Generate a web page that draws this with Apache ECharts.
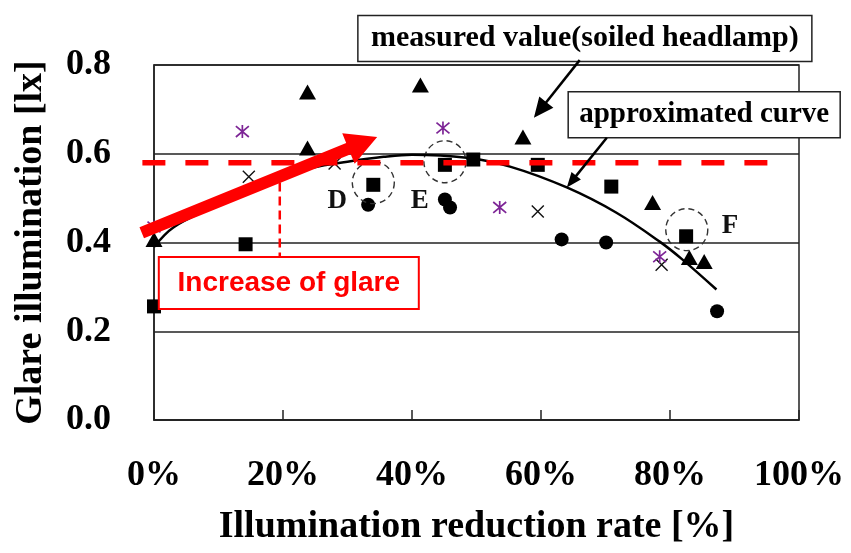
<!DOCTYPE html>
<html>
<head>
<meta charset="utf-8">
<script src="https://cdn.jsdelivr.net/npm/echarts@6/dist/echarts.min.js"></script>
<style>
  html, body { margin: 0; padding: 0; background: #fff; }
  #chart { width: 851px; height: 553px; }
</style>
</head>
<body>
<div id="chart"></div>
<script>
// Glare illumination [lx] against illumination reduction rate (fraction 0..1)
const xTickValues = [0, 0.2, 0.4, 0.6, 0.8, 1.0];
const yTickValues = [0, 0.2, 0.4, 0.6, 0.8];

// measured points, one array per marker type
const trianglePoints = [[0, 0.407], [0.238, 0.739], [0.238, 0.613], [0.413, 0.755], [0.572, 0.638], [0.773, 0.49], [0.83, 0.366], [0.853, 0.357]];
const squarePoints = [[0, 0.256], [0.142, 0.396], [0.34, 0.53], [0.451, 0.575], [0.495, 0.587], [0.595, 0.575], [0.709, 0.526], [0.825, 0.414]];
const circlePoints = [[0.332, 0.485], [0.451, 0.497], [0.459, 0.479], [0.632, 0.407], [0.701, 0.40], [0.873, 0.245]];
const crossPoints = [[0.147, 0.548], [0.28, 0.578], [0.595, 0.47], [0.787, 0.35]];
const asteriskPoints = [[0, 0.435], [0.137, 0.65], [0.448, 0.658], [0.536, 0.479], [0.784, 0.368]];

// approximated curve
const approxCurve = [[0, 0.39], [0.03, 0.434], [0.093, 0.481], [0.17, 0.535], [0.247, 0.569], [0.30, 0.582], [0.356, 0.593], [0.40, 0.598], [0.485, 0.591], [0.552, 0.571], [0.64, 0.524], [0.717, 0.467], [0.784, 0.402], [0.819, 0.362], [0.872, 0.294]];

// glare reference level and its extent
const glareLevel = 0.58;
const glareLevelSpan = [-0.018, 0.955];
const glareDrop = [[0.195, 0.535], [0.195, 0.366]];
const glareArrow = [[-0.019, 0.422], [0.346, 0.638]];

// highlighted points and their letters
const ringCenters = [[0.34, 0.535], [0.451, 0.582], [0.826, 0.429]];
const ringLetters = ['D', 'E', 'F'];
const letterAnchors = [[0.284, 0.494], [0.412, 0.494], [0.893, 0.436]];

// callout boxes: text, anchor (centre), and the arrow from the box to the chart
const measuredText = 'measured value(soiled headlamp)';
const measuredAnchor = [0.668, 0.86];
const measuredPointer = [[0.660, 0.811], [0.589, 0.681]];
const curveText = 'approximated curve';
const curveAnchor = [0.853, 0.688];
const curvePointer = [[0.702, 0.636], [0.640, 0.524]];
const glareText = 'Increase of glare';
const glareAnchor = [0.209, 0.309];

const SERIF = '"Liberation Serif", "Times New Roman", serif';
const SANS = '"Liberation Sans", Arial, sans-serif';

function arrowPolygon(p0, p1, shaftW, headL, headW) {
  const dx = p1[0] - p0[0], dy = p1[1] - p0[1];
  const len = Math.hypot(dx, dy);
  const ux = dx / len, uy = dy / len, nx = -uy, ny = ux;
  const bx = p1[0] - ux * headL, by = p1[1] - uy * headL;
  return [
    [p0[0] + nx * shaftW / 2, p0[1] + ny * shaftW / 2],
    [bx + nx * shaftW / 2, by + ny * shaftW / 2],
    [bx + nx * headW / 2, by + ny * headW / 2],
    [p1[0], p1[1]],
    [bx - nx * headW / 2, by - ny * headW / 2],
    [bx - nx * shaftW / 2, by - ny * shaftW / 2],
    [p0[0] - nx * shaftW / 2, p0[1] - ny * shaftW / 2]
  ];
}

function overlay(z, draw) {
  return {
    type: 'custom', coordinateSystem: 'cartesian2d', clip: false, silent: true, z: z,
    data: [[0, 0]],
    renderItem: function (params, api) { return draw(api); }
  };
}

function pointerGroup(api, seg, headL, headW) {
  const p0 = api.coord(seg[0]), p1 = api.coord(seg[1]);
  const dx = p1[0] - p0[0], dy = p1[1] - p0[1];
  const len = Math.hypot(dx, dy);
  const end = [p1[0] - dx / len * headL * 0.8, p1[1] - dy / len * headL * 0.8];
  return [
    { type: 'line', shape: { x1: p0[0], y1: p0[1], x2: end[0], y2: end[1] }, style: { stroke: '#000', lineWidth: 2.5 } },
    { type: 'polygon', shape: { points: arrowPolygon(p0, p1, 0, headL, headW) }, style: { fill: '#000' } }
  ];
}

function textBox(api, anchor, text, w, h, font, color, border, borderW) {
  const c = api.coord(anchor);
  return {
    type: 'group',
    children: [
      { type: 'rect', shape: { x: c[0] - w / 2, y: c[1] - h / 2, width: w, height: h }, style: { fill: '#fff', stroke: border, lineWidth: borderW } },
      { type: 'text', style: { text: text, x: c[0], y: c[1], align: 'center', verticalAlign: 'middle', font: font, fill: color } }
    ]
  };
}

const chart = echarts.init(document.getElementById('chart'), null, { renderer: 'canvas' });

const markerStyle = { color: '#000', opacity: 1 };

const option = {
  backgroundColor: '#fff',
  animation: false,
  grid: { left: 154, right: 52, top: 65, bottom: 133, show: true, borderColor: '#222', borderWidth: 1.5, backgroundColor: 'transparent' },
  xAxis: {
    type: 'value', min: xTickValues[0], max: xTickValues[xTickValues.length - 1], interval: 0.2,
    name: 'Illumination reduction rate [%]', nameLocation: 'middle', nameGap: 88,
    nameTextStyle: { fontFamily: SERIF, fontWeight: 'bold', fontSize: 38, color: '#000' },
    axisLine: { show: true, lineStyle: { color: '#222', width: 1.5 } },
    axisTick: { show: true, inside: true, length: 10, lineStyle: { color: '#222', width: 1.5 } },
    splitLine: { show: false },
    axisLabel: { margin: 38, fontFamily: SERIF, fontWeight: 'bold', fontSize: 36, color: '#000',
      formatter: v => Math.round(v * 100) + '%' }
  },
  yAxis: {
    type: 'value', min: yTickValues[0], max: yTickValues[yTickValues.length - 1], interval: 0.2,
    name: 'Glare illumination [lx]', nameLocation: 'middle', nameGap: 104, nameRotate: 90,
    nameTextStyle: { fontFamily: SERIF, fontWeight: 'bold', fontSize: 38, color: '#000' },
    axisLine: { show: true, lineStyle: { color: '#222', width: 1.5 } },
    axisTick: { show: false },
    splitLine: { show: true, lineStyle: { color: '#222', width: 1.5 } },
    axisLabel: { margin: 43, fontFamily: SERIF, fontWeight: 'bold', fontSize: 36, color: '#000',
      formatter: v => v.toFixed(1) }
  },
  series: [
    { type: 'scatter', data: trianglePoints, symbol: 'triangle', symbolSize: [17, 15], itemStyle: markerStyle, z: 3 },
    { type: 'scatter', data: squarePoints, symbol: 'rect', symbolSize: 14, itemStyle: markerStyle, z: 3 },
    { type: 'scatter', data: circlePoints, symbol: 'circle', symbolSize: 14, itemStyle: markerStyle, z: 3 },
    { type: 'scatter', data: crossPoints, symbol: 'path://M0,0L10,10M10,0L0,10', symbolSize: 12,
      itemStyle: { color: 'transparent', borderColor: '#111', borderWidth: 1.4, opacity: 1 }, z: 3 },
    { type: 'scatter', data: asteriskPoints, symbol: 'path://M0,0L10,10M10,0L0,10M5,-1L5,11', symbolSize: 13,
      itemStyle: { color: 'transparent', borderColor: '#7d2596', borderWidth: 1.7, opacity: 1 }, z: 3 },
    { type: 'line', data: approxCurve, showSymbol: false, smooth: 0.35, lineStyle: { color: '#000', width: 2.5 }, z: 4 },

    // dashed rings around points D, E, F
    overlay(4, api => ({
      type: 'group',
      children: ringCenters.map(c => {
        const p = api.coord(c);
        return { type: 'circle', shape: { cx: p[0], cy: p[1], r: 21 }, style: { fill: 'none', stroke: '#333', lineWidth: 1.4, lineDash: [6, 4] } };
      }).concat(ringLetters.map((t, i) => {
        const p = api.coord(letterAnchors[i]);
        return { type: 'text', style: { text: t, x: p[0], y: p[1], align: 'center', verticalAlign: 'middle', font: 'bold 27px ' + SERIF, fill: '#111' } };
      }))
    })),

    // glare reference level and drop line
    overlay(5, api => {
      const a = api.coord([glareLevelSpan[0], glareLevel]), b = api.coord([glareLevelSpan[1], glareLevel]);
      const d0 = api.coord(glareDrop[0]), d1 = api.coord(glareDrop[1]);
      return {
        type: 'group',
        children: [
          { type: 'line', shape: { x1: a[0], y1: a[1], x2: b[0], y2: b[1] }, style: { stroke: '#ff0000', lineWidth: 5.5, lineDash: [23, 20] } },
          { type: 'line', shape: { x1: d0[0], y1: d0[1], x2: d1[0], y2: d1[1] }, style: { stroke: '#ff0000', lineWidth: 2.5, lineDash: [9, 5] } }
        ]
      };
    }),

    // thick arrow for the glare increase
    overlay(6, api => ({
      type: 'polygon',
      shape: { points: arrowPolygon(api.coord(glareArrow[0]), api.coord(glareArrow[1]), 12, 31, 33) },
      style: { fill: '#ff0000' }
    })),

    // callout boxes and pointers
    overlay(7, api => ({
      type: 'group',
      children: [
        textBox(api, measuredAnchor, measuredText, 454, 46, 'bold 30px ' + SERIF, '#000', '#222', 1.5),
        textBox(api, curveAnchor, curveText, 272, 46, 'bold 29px ' + SERIF, '#000', '#222', 1.5),
        textBox(api, glareAnchor, glareText, 260, 52, 'bold 28px ' + SANS, '#ff0000', '#ff0000', 2)
      ].concat(pointerGroup(api, measuredPointer, 20, 18), pointerGroup(api, curvePointer, 15, 12))
    }))
  ]
};

chart.setOption(option);
</script>
</body>
</html>
